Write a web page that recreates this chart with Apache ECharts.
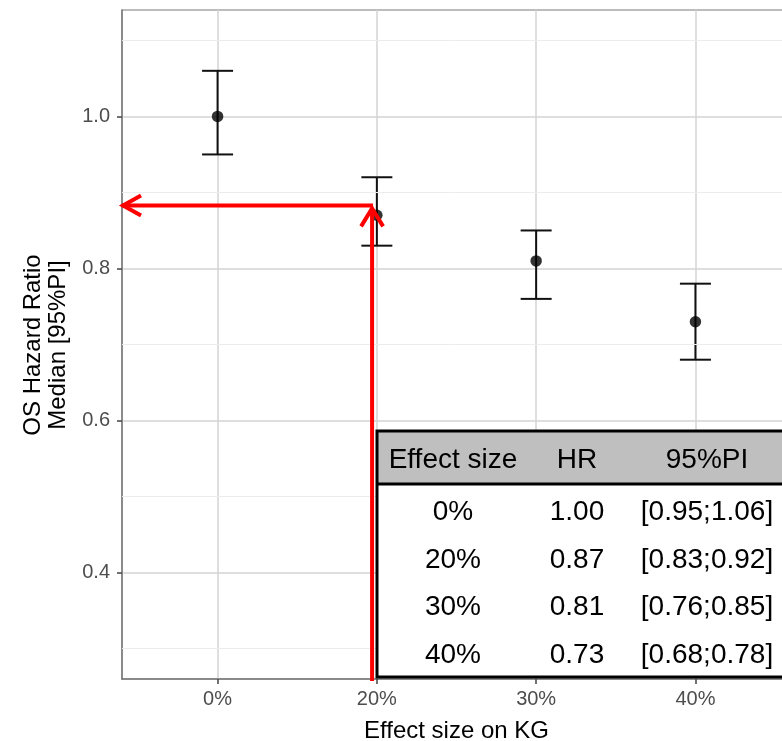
<!DOCTYPE html>
<html><head><meta charset="utf-8">
<script src="https://cdn.jsdelivr.net/npm/echarts@6/dist/echarts.min.js"></script>
<style>html,body{margin:0;padding:0;background:#fff}#c{width:782px;height:741px}</style>
</head><body><div id="c"></div>
<script>
// ---- data ----
const categories = ['0%', '20%', '30%', '40%'];
const hr = [1.00, 0.87, 0.81, 0.73];
const lower = [0.95, 0.83, 0.76, 0.68];
const upper = [1.06, 0.92, 0.85, 0.78];
const yTicks = [0.4, 0.6, 0.8, 1.0];
const yMinor = [0.3, 0.5, 0.7, 0.9, 1.1];
const arrowPoint = [0.97, 0.883];
const tableHeader = ['Effect size', 'HR', '95%PI'];
const xTitle = 'Effect size on KG';
const yTitle = 'OS Hazard Ratio\nMedian [95%PI]';

const tableRows = categories.map((c, i) => [c, hr[i].toFixed(2), '[' + lower[i].toFixed(2) + ';' + upper[i].toFixed(2) + ']']);
const FONT = 'Liberation Sans, Arial, sans-serif';
const X_MIN = -0.6, X_MAX = 3.6, Y_MIN = 0.26, Y_MAX = 1.14;
const xIdx = categories.map((c, i) => i);

const chart = echarts.init(document.getElementById('c'), null, { renderer: 'canvas' });

// table graphic
const tLeft = 377, tTop = 431, tHead = 484, tBottom = 677, tRight = 810;
const colX = [453, 577, 707];
const rowY = [512, 560, 607.5, 655];
const TZ = 100;
const tableEls = [
  { type: 'rect', z: TZ, shape: { x: tLeft, y: tTop, width: tRight - tLeft, height: tBottom - tTop }, style: { fill: '#fff' } },
  { type: 'rect', z: TZ + 1, shape: { x: tLeft, y: tTop, width: tRight - tLeft, height: tHead - tTop }, style: { fill: '#bfbfbf' } },
  { type: 'line', z: TZ + 2, shape: { x1: tLeft, y1: tHead, x2: tRight, y2: tHead }, style: { stroke: '#000', lineWidth: 3 } },
  { type: 'rect', z: TZ + 2, shape: { x: tLeft, y: tTop, width: tRight - tLeft, height: tBottom - tTop }, style: { fill: null, stroke: '#000', lineWidth: 3 } }
];
tableHeader.forEach((h, j) => tableEls.push({ type: 'text', z: TZ + 3, x: colX[j], y: 460, style: { text: h, font: '28px ' + FONT, fill: '#000', align: 'center', verticalAlign: 'middle' } }));
tableRows.forEach((r, i) => r.forEach((v, j) => tableEls.push({ type: 'text', z: TZ + 3, x: colX[j], y: rowY[i], style: { text: v, font: '28px ' + FONT, fill: '#000', align: 'center', verticalAlign: 'middle' } })));

const option = {
  animation: false,
  backgroundColor: '#fff',
  grid: { left: 122, top: 10, right: -9, bottom: 62, outerBoundsMode: 'none', containLabel: false, show: true, borderColor: '#a6a6a6', borderWidth: 1.5, backgroundColor: 'transparent' },
  xAxis: {
    type: 'value', min: X_MIN, max: X_MAX,
    name: xTitle, nameLocation: 'middle', nameGap: 40,
    nameTextStyle: { fontSize: 24, color: '#000', fontFamily: FONT },
    axisLine: { show: true, onZero: false, lineStyle: { color: '#7a7a7a', width: 1.5 } },
    axisTick: { show: true, customValues: xIdx, length: 5, lineStyle: { color: '#444', width: 1.5 } },
    axisLabel: { customValues: xIdx, formatter: v => categories[Math.round(v)], fontSize: 20, color: '#4d4d4d', fontFamily: FONT, margin: 10 },
    splitLine: { show: true, lineStyle: { color: '#d3d3d3', width: 1.5 } }
  },
  yAxis: {
    type: 'value', min: Y_MIN, max: Y_MAX,
    axisLine: { show: true, onZero: false, lineStyle: { color: '#7a7a7a', width: 1.5 } },
    axisTick: { show: true, customValues: yTicks, length: 5, lineStyle: { color: '#444', width: 1.5 } },
    axisLabel: { customValues: yTicks, formatter: v => v.toFixed(1), fontSize: 20, color: '#4d4d4d', fontFamily: FONT, margin: 12 },
    splitLine: { show: true, lineStyle: { color: '#d3d3d3', width: 1.5 } }
  },
  graphic: [
    { type: 'text', x: 46, y: 345, rotation: Math.PI / 2, style: { text: yTitle, font: '24px ' + FONT, fill: '#000', align: 'center', verticalAlign: 'middle', lineHeight: 25 } },
    { type: 'group', z: TZ, children: tableEls }
  ],
  series: [
    {
      type: 'line', data: [], z: 1, silent: true,
      markLine: { silent: true, symbol: 'none', label: { show: false }, lineStyle: { color: '#ececec', width: 1, type: 'solid' },
        data: yMinor.map(v => ({ yAxis: v })) }
    },
    {
      type: 'custom', z: 3, clip: false,
      data: xIdx.map(i => [i, lower[i], upper[i]]),
      renderItem: (params, api) => {
        const x = api.value(0);
        const lo = api.coord([x, api.value(1)]);
        const hi = api.coord([x, api.value(2)]);
        const w = 15.5;
        const st = { stroke: '#111', lineWidth: 2 };
        return { type: 'group', children: [
          { type: 'line', shape: { x1: lo[0], y1: lo[1], x2: hi[0], y2: hi[1] }, style: st },
          { type: 'line', shape: { x1: lo[0] - w, y1: lo[1], x2: lo[0] + w, y2: lo[1] }, style: st },
          { type: 'line', shape: { x1: hi[0] - w, y1: hi[1], x2: hi[0] + w, y2: hi[1] }, style: st }
        ] };
      }
    },
    {
      type: 'scatter', z: 4, symbol: 'circle', symbolSize: 11.5,
      itemStyle: { color: '#000' },
      data: xIdx.map(i => [i, hr[i]])
    },
    {
      type: 'custom', z: 5, clip: false,
      data: [arrowPoint],
      renderItem: (params, api) => {
        const p = api.coord([api.value(0), api.value(1)]);
        const b = api.coord([api.value(0), Y_MIN]);
        const l = api.coord([X_MIN, api.value(1)]);
        const st = { stroke: '#ff0000', lineWidth: 4, fill: null, lineJoin: 'miter' };
        const tipY = p[1] + 3;
        return { type: 'group', children: [
          { type: 'polyline', shape: { points: [[p[0] + 1, p[1]], [l[0], l[1]]] }, style: st },
          { type: 'polyline', shape: { points: [[b[0], b[1] + 2], [b[0], tipY]] }, style: st },
          { type: 'polyline', shape: { points: [[l[0] + 19, l[1] - 10], [l[0] + 1, l[1]], [l[0] + 19, l[1] + 10]] }, style: st },
          { type: 'polyline', shape: { points: [[b[0] - 11, tipY + 18], [b[0], tipY], [b[0] + 11, tipY + 18]] }, style: st }
        ] };
      }
    }
  ]
};
chart.setOption(option);
</script>
</body></html>
